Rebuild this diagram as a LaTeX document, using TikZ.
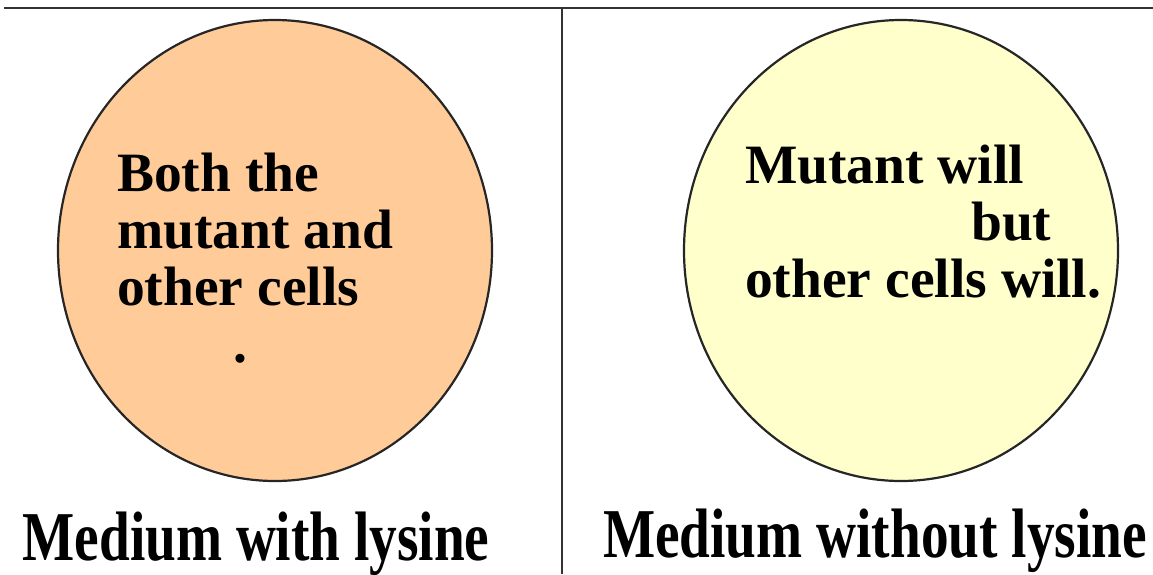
\documentclass[tikz,border=0pt]{standalone}
\usepackage{fontspec}
\setmainfont{Liberation Serif}
\usetikzlibrary{shapes.geometric}
\definecolor{peach}{HTML}{FFCC99}
\definecolor{cream}{HTML}{FFFFCC}
\begin{document}
\begin{tikzpicture}[x=1pt, y=-1pt,
    plate/.style={ellipse, draw=black!85, line width=2.2pt, minimum width=434pt, minimum height=461pt, inner sep=0pt},
    note/.style={anchor=base west, align=left, inner sep=0pt, font=\fontsize{55.5}{57}\selectfont\bfseries},
    caption/.style={anchor=base, inner sep=0pt, font=\fontsize{70}{70}\selectfont\bfseries}]
                \useasboundingbox (0,0) rectangle (1153,574);
                \node[plate, fill=peach] (withlys) at (275,250.5) {};
                \node[plate, fill=cream] (withoutlys) at (901,250.5) {};
                \coordinate (topL) at (4,8); \coordinate (topR) at (1153,8);
                \coordinate (midT) at (562,8); \coordinate (midB) at (562,574);
                \draw[line width=2pt, black!80] (topL) -- (topR) (midT) -- (midB);
                % base anchor sits on the last line
                \node[note] (noteL) at (117,362) {Both the\\mutant and\\other cells\\\hspace*{116pt}.};
                \node[note] (noteR) at (745,297) {Mutant will\\\hspace*{226pt}but\\other cells will.};
                \node[caption] (capL) at (256,560) {\scalebox{0.79}[1]{Medium with lysine}};
                \node[caption] (capR) at (875,557) {\scalebox{0.79}[1]{Medium without lysine}};
            \end{tikzpicture}
\end{document}
